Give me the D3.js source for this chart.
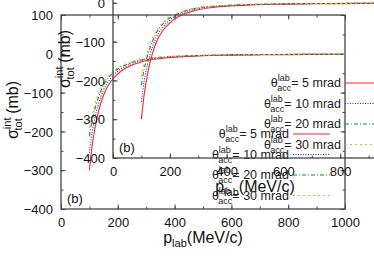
<!DOCTYPE html>
<html>
<head>
<meta charset="utf-8">
<script src="https://cdn.jsdelivr.net/npm/d3@7"></script>
<style>
  html, body { margin: 0; padding: 0; background: #fff; }
  svg { display: block; font-family: "Liberation Sans", Arial, Helvetica, sans-serif; }
</style>
</head>
<body>
<svg id="chart" width="374" height="262"></svg>
<script>
// momentum grid (MeV/c) shared by all curves
const pLab = [100, 110, 120, 130, 140, 150, 160, 175, 200, 225, 250, 300, 350, 400, 500, 600, 700, 800, 900, 1000];

// sigma_tot^int (mb) for each acceptance angle
const sig5 = [-300, -235, -190, -155, -128, -106, -90, -72, -52, -38, -29, -18, -12, -9, -5, -3.5, -2.5, -2, -1.5, -1.5];
const sig10 = [-255, -200, -163, -134, -111, -93, -79, -63, -45, -33, -25, -15, -10, -7.5, -4.5, -3, -2, -1.7, -1.4, -1.2];
const sig20 = [-212, -170, -140, -116, -97, -81, -69, -55, -39, -29, -22, -13, -9, -6.5, -4, -2.7, -2, -1.6, -1.3, -1.1];
const sig30 = [-190, -155, -128, -106, -89, -75, -64, -51, -36, -27, -20, -12, -8.5, -6, -3.8, -2.5, -1.9, -1.5, -1.2, -1];

const angles = ["5", "10", "20", "30"];
const seriesVals = [sig5, sig10, sig20, sig30];
const colors = ["#ff2020", "#2020ff", "#109010", "#ffaa30"];
const dashes = [null, "1,1.5", "4,2,1,2", "2,3"];

const xTicks = [0, 200, 400, 600, 800, 1000];
const yTicks = [-400, -300, -200, -100, 0, 100];

const svg = d3.select("#chart");
svg.append("rect").attr("width", 374).attr("height", 262).attr("fill", "#fff");

const plotL = 61, plotR = 345, plotT = 15, plotB = 209;

function drawPanel(g) {
    const x = d3.scaleLinear().domain([0, 1000]).range([plotL, plotR]);
    const y = d3.scaleLinear().domain([-400, 100]).range([plotB, plotT]);

    // minor ticks (all four sides, inward)
    const minorX = d3.range(0, 1001, 100);
    const minorY = d3.range(-400, 101, 50);
    g.append("g").attr("transform", `translate(0,${plotB})`)
        .call(d3.axisBottom(x).tickValues(minorX).tickSize(-2.5).tickFormat(""));
    g.append("g").attr("transform", `translate(0,${plotT})`)
        .call(d3.axisTop(x).tickValues(minorX).tickSize(-2.5).tickFormat(""));
    g.append("g").attr("transform", `translate(${plotL},0)`)
        .call(d3.axisLeft(y).tickValues(minorY).tickSize(-2.5).tickFormat(""));
    g.append("g").attr("transform", `translate(${plotR},0)`)
        .call(d3.axisRight(y).tickValues(minorY).tickSize(-2.5).tickFormat(""));

    // major ticks with labels
    const xb = g.append("g").attr("transform", `translate(0,${plotB})`)
        .call(d3.axisBottom(x).tickValues(xTicks).tickSize(-4.5).tickPadding(9).tickFormat(d3.format("d")));
    const yl = g.append("g").attr("transform", `translate(${plotL},0)`)
        .call(d3.axisLeft(y).tickValues(yTicks).tickSize(-4.5).tickPadding(8).tickFormat(d3.format("d")));
    g.append("g").attr("transform", `translate(0,${plotT})`)
        .call(d3.axisTop(x).tickValues(xTicks).tickSize(-4.5).tickFormat(""));
    g.append("g").attr("transform", `translate(${plotR},0)`)
        .call(d3.axisRight(y).tickValues(yTicks).tickSize(-4.5).tickFormat(""));

    g.selectAll(".domain").remove();
    g.selectAll(".tick line").attr("stroke", "#444");
    [xb, yl].forEach(a => a.attr("font-family", null).attr("font-size", 13));
    g.selectAll(".tick text").attr("fill", "#111");
    yl.selectAll(".tick text").attr("dy", "0.36em");

    // frame
    g.append("rect")
        .attr("x", plotL).attr("y", plotT)
        .attr("width", plotR - plotL).attr("height", plotB - plotT)
        .attr("fill", "none").attr("stroke", "#444").attr("stroke-width", 1.3);

    // curves
    const line = d3.line()
        .x((d, i) => x(pLab[i]))
        .y(d => y(d))
        .curve(d3.curveMonotoneX);
    seriesVals.forEach((vals, k) => {
        g.append("path")
            .attr("d", line(vals))
            .attr("fill", "none")
            .attr("stroke", colors[k])
            .attr("stroke-width", 1.1)
            .attr("stroke-dasharray", dashes[k]);
    });

    // legend
    angles.forEach((a, k) => {
        const ly = 134 + k * 20.5;
        const t = g.append("text")
            .attr("x", 289).attr("y", ly + 4)
            .attr("text-anchor", "end")
            .attr("font-size", 12.5)
            .attr("fill", "#222");
        t.append("tspan").text("\u03b8");
        t.append("tspan").attr("font-size", 9).attr("dy", -6).text("lab");
        t.append("tspan").attr("font-size", 9).attr("dx", -12.5).attr("dy", 10).text("acc");
        t.append("tspan").attr("dy", -4).text("= " + a + " mrad");
        g.append("line")
            .attr("x1", 293).attr("x2", 330)
            .attr("y1", ly).attr("y2", ly)
            .attr("stroke", colors[k])
            .attr("stroke-width", 1.1)
            .attr("stroke-dasharray", dashes[k]);
    });

    // panel tag
    g.append("text").attr("x", 67).attr("y", 203)
        .attr("font-size", 13).attr("fill", "#111").text("(b)");

    // x label
    const xt = g.append("text")
        .attr("x", 203).attr("y", 243)
        .attr("text-anchor", "middle")
        .attr("font-size", 16).attr("fill", "#111");
    xt.append("tspan").text("p");
    xt.append("tspan").attr("font-size", 11).attr("dy", 4).text("lab");
    xt.append("tspan").attr("dy", -4).text("(MeV/c)");

    // y label
    const yt = g.append("text")
        .attr("transform", "translate(18,110) rotate(-90)")
        .attr("text-anchor", "middle")
        .attr("font-size", 16).attr("fill", "#111");
    yt.append("tspan").text("\u03c3");
    yt.append("tspan").attr("font-size", 11).attr("dy", -7).text("int");
    yt.append("tspan").attr("font-size", 11).attr("dx", -13).attr("dy", 11).text("tot");
    yt.append("tspan").attr("dy", -4).text(" (mb)");
}

drawPanel(svg.append("g"));
drawPanel(svg.append("g").attr("transform", "translate(52,-51)"));
</script>
</body>
</html>
